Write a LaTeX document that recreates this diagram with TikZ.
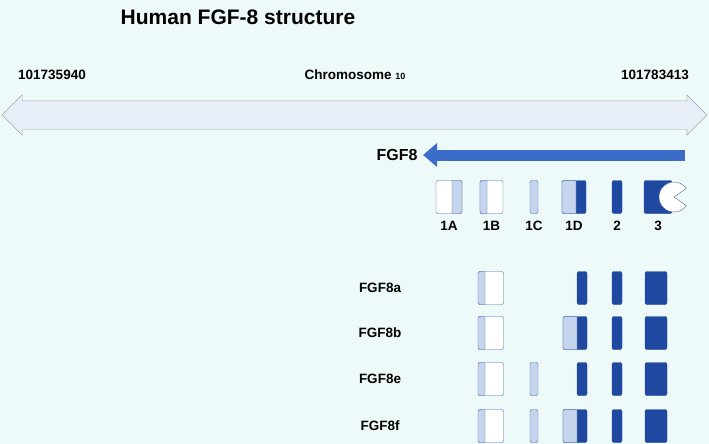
\documentclass[tikz,border=0pt]{standalone}
\usepackage{fontspec}
\setmainfont{Liberation Sans}
\usetikzlibrary{positioning,arrows.meta,shapes.arrows}
\definecolor{bgcyan}{RGB}{238, 250, 250}
\definecolor{darkexon}{RGB}{31, 72, 160}
\definecolor{lightexon}{RGB}{197, 213, 238}
\definecolor{exonline}{RGB}{74, 100, 168}
\definecolor{genearrow}{RGB}{59, 108, 200}
\definecolor{chromfill}{RGB}{232, 238, 248}

\begin{document}
\begin{tikzpicture}[x=1pt, y=-1pt,
    lbl/.style={font=\bfseries\fontsize{13.5}{15}\selectfont},
    exon/.style={rectangle, rounded corners=2pt, draw=exonline, fill=white, inner sep=0pt, minimum height=33pt},
    lightexon/.style={exon, fill=lightexon},
    darkexon/.style={exon, fill=darkexon, draw=darkexon},
    strip/.style={fill=lightexon, draw=exonline}
]
\fill[bgcyan] (0,0) rectangle (709,444);
\useasboundingbox (0,0) rectangle (709,444);

\node[font=\bfseries\fontsize{21}{24}\selectfont] (title) at (238,17) {Human FGF-8 structure};

% chromosome
\node[double arrow, draw=gray!70, fill=chromfill, minimum height=705pt,
      double arrow head extend=6pt, inner xsep=0pt, inner ysep=14pt] (chrom) at (354.5,115) {};
\node[lbl] (left) at (52,75) {101735940};
\node[lbl] (chr) at (355,75) {Chromosome \small 10};
\node[lbl] (right) at (655,75) {101783413};

% gene
\coordinate (gstart) at (685,155);
\coordinate (gend) at (423,155);
\draw[genearrow, line width=11pt, -{Triangle[length=14pt, width=23pt]}] (gstart) -- (gend);
\node[font=\bfseries\fontsize{16}{18}\selectfont, left=2pt of gend] (fgf) {FGF8};

% exons of the gene
\node[exon, minimum width=26pt] (e1A) at (449,197) {};
\path[strip] (452,180.5) [rounded corners=2pt] -- (462,180.5) -- (462,213.5) [sharp corners] -- (452,213.5) -- cycle;
\node[exon, minimum width=23pt] (e1B) at (491.5,197) {};
\path[strip] (487,180.5) [rounded corners=2pt] -- (480,180.5) -- (480,213.5) [sharp corners] -- (487,213.5) -- cycle;
\node[lightexon, minimum width=8pt] (e1C) at (534,197) {};
\node[darkexon, minimum width=24pt] (e1D) at (574,197) {};
\path[strip] (576,180.5) [rounded corners=2pt] -- (562,180.5) -- (562,213.5) [sharp corners] -- (576,213.5) -- cycle;
\node[darkexon, minimum width=10pt] (e2) at (617,197) {};
\node[darkexon, minimum width=28pt] (e3) at (658,197) {};
\filldraw[fill=white, draw=exonline] (674,197) -- ++(35:15) arc (35:325:15) -- cycle;

\foreach \e/\t in {e1A/1A, e1B/1B, e1C/1C, e1D/1D, e2/2, e3/3}
  \node[lbl, below=4pt of \e] {\t};

% isoforms
\foreach \name/\y/\hasC/\hasD in {FGF8a/288/0/0, FGF8b/333/0/1, FGF8e/379/1/0, FGF8f/426/1/1} {
  \node[lbl] (\name) at (380,\y) {\name};
  \node[exon, minimum width=25pt] (\name-1) at (491,\y) {};
  \path[strip] (485,\y-16.5) [rounded corners=2pt] -- (478,\y-16.5) -- (478,\y+16.5) [sharp corners] -- (485,\y+16.5) -- cycle;
  \ifnum\hasC=1
    \node[lightexon, minimum width=8pt] (\name-c) at (534,\y) {};
  \fi
  \ifnum\hasD=1
    \node[darkexon, minimum width=24pt] (\name-d) at (575,\y) {};
    \path[strip] (577,\y-16.5) [rounded corners=2pt] -- (563,\y-16.5) -- (563,\y+16.5) [sharp corners] -- (577,\y+16.5) -- cycle;
  \else
    \node[darkexon, minimum width=10pt] (\name-d) at (582,\y) {};
  \fi
  \node[darkexon, minimum width=10pt] (\name-2) at (617,\y) {};
  \node[darkexon, minimum width=22pt] (\name-3) at (656,\y) {};
}
\end{tikzpicture}
\end{document}
